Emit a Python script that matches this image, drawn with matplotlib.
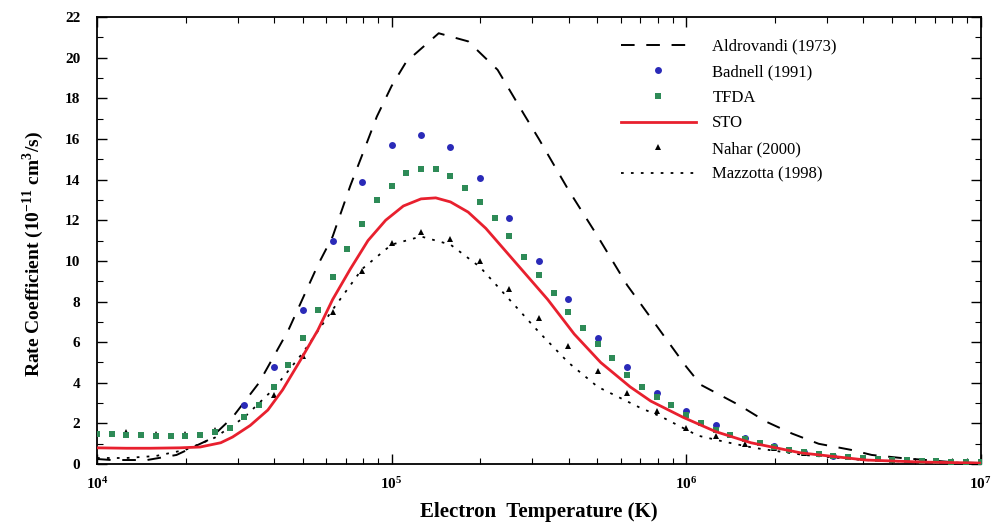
import numpy as np
import matplotlib
matplotlib.use("Agg")
import matplotlib.pyplot as plt
from matplotlib.ticker import LogLocator, MultipleLocator, FixedLocator

# ---- data (log10 of electron temperature in K, rate in 1e-11 cm^3/s) ----
ald_logT = [4.00, 4.05, 4.17, 4.27, 4.38, 4.46, 4.55, 4.65, 4.75, 4.80, 4.86, 4.90, 4.95,
            5.00, 5.05, 5.16, 5.26, 5.36, 5.45, 5.50, 5.56, 5.60, 5.70, 5.80, 5.90, 6.00,
            6.05, 6.18, 6.27, 6.36, 6.45, 6.56, 6.63, 6.73, 6.90, 7.00]
ald_rate = [0.25, 0.20, 0.20, 0.45, 1.20, 2.30, 4.00, 6.60, 9.80, 11.2, 13.7, 15.2, 17.1,
            18.6, 19.8, 21.2, 20.8, 19.4, 17.2, 16.0, 14.5, 13.5, 11.2, 8.8, 6.8, 4.8,
            3.9, 2.9, 2.1, 1.5, 1.0, 0.7, 0.45, 0.30, 0.10, 0.05]

bad_logT = [4.5, 4.6, 4.7, 4.8, 4.9, 5.0, 5.1, 5.2, 5.3, 5.4, 5.5, 5.6, 5.7, 5.8, 5.9, 6.0,
            6.1, 6.2, 6.3, 6.4, 6.5]
bad_rate = [2.9, 4.8, 7.6, 11.0, 13.9, 15.7, 16.2, 15.6, 14.1, 12.1, 10.0, 8.1, 6.2, 4.8,
            3.5, 2.6, 1.9, 1.3, 0.9, 0.6, 0.4]

tfda_logT = [4.00, 4.05, 4.10, 4.15, 4.20, 4.25, 4.30, 4.35, 4.40, 4.45, 4.50, 4.55, 4.60,
             4.65, 4.70, 4.75, 4.80, 4.85, 4.90, 4.95, 5.00, 5.05, 5.10, 5.15, 5.20, 5.25,
             5.30, 5.35, 5.40, 5.45, 5.50, 5.55, 5.60, 5.65, 5.70, 5.75, 5.80, 5.85, 5.90,
             5.95, 6.00, 6.05, 6.10, 6.15, 6.20, 6.25, 6.30, 6.35, 6.40, 6.45, 6.50, 6.55,
             6.60, 6.65, 6.70, 6.75, 6.80, 6.85, 6.90, 6.95, 7.00]
tfda_rate = [1.50, 1.50, 1.45, 1.45, 1.40, 1.40, 1.40, 1.45, 1.60, 1.80, 2.30, 2.90, 3.80,
             4.90, 6.20, 7.60, 9.20, 10.6, 11.8, 13.0, 13.7, 14.3, 14.5, 14.5, 14.2, 13.6,
             12.9, 12.1, 11.2, 10.2, 9.3, 8.4, 7.5, 6.7, 5.9, 5.2, 4.4, 3.8, 3.3,
             2.9, 2.4, 2.0, 1.7, 1.45, 1.25, 1.05, 0.85, 0.70, 0.60, 0.50, 0.42, 0.35,
             0.30, 0.25, 0.20, 0.18, 0.15, 0.13, 0.12, 0.11, 0.10]

sto_logT = [4.00, 4.10, 4.18, 4.28, 4.35, 4.42, 4.46, 4.52, 4.58, 4.63, 4.69, 4.75, 4.80,
            4.86, 4.92, 4.98, 5.04, 5.10, 5.15, 5.20, 5.26, 5.32, 5.41, 5.53, 5.62, 5.71,
            5.81, 5.88, 5.99, 6.10, 6.22, 6.39, 6.61, 6.80, 7.00]
sto_rate = [0.80, 0.78, 0.78, 0.80, 0.84, 1.05, 1.33, 1.90, 2.66, 3.65, 5.10, 6.60, 8.10,
            9.60, 11.0, 12.0, 12.7, 13.05, 13.1, 12.9, 12.4, 11.6, 10.1, 8.1, 6.4, 5.0,
            3.8, 3.1, 2.3, 1.6, 1.05, 0.55, 0.20, 0.10, 0.05]

nah_logT = [4.0, 4.1, 4.2, 4.3, 4.4, 4.5, 4.6, 4.7, 4.8, 4.9, 5.0, 5.1, 5.2, 5.3, 5.4, 5.5,
            5.6, 5.7, 5.8, 5.9, 6.0, 6.1, 6.2, 6.3, 6.4]
nah_rate = [1.6, 1.6, 1.5, 1.5, 1.7, 2.3, 3.4, 5.3, 7.5, 9.5, 10.9, 11.4, 11.1, 10.0, 8.6, 7.2,
            5.8, 4.6, 3.5, 2.6, 1.8, 1.4, 1.0, 0.8, 0.55]

maz_logT = [4.00, 4.10, 4.20, 4.30, 4.40, 4.50, 4.60, 4.70, 4.80, 4.90, 5.00, 5.10, 5.20,
            5.30, 5.40, 5.50, 5.60, 5.70, 5.84, 5.92, 6.04, 6.13, 6.23, 6.40, 6.60, 6.80, 7.00]
maz_rate = [0.30, 0.30, 0.40, 0.70, 1.30, 2.30, 3.70, 5.50, 7.60, 9.60, 10.8, 11.2, 10.8,
            9.7, 8.1, 6.5, 5.0, 3.8, 2.8, 2.3, 1.4, 1.1, 0.8, 0.45, 0.20, 0.10, 0.05]

labels = ["Aldrovandi (1973)", "Badnell (1991)", "TFDA", "STO", "Nahar (2000)", "Mazzotta (1998)"]
y_ticks = [0, 2, 4, 6, 8, 10, 12, 14, 16, 18, 20, 22]
x_ticks = [1e4, 1e5, 1e6, 1e7]
x_label = "Electron  Temperature (K)"
y_label = r"Rate Coefficient (10$^{\mathbf{-11}}$ cm$^{\mathbf{3}}$/s)"

def T(v):
    return 10 ** np.asarray(v)

plt.rcParams['font.family'] = ['Liberation Serif', 'DejaVu Serif']
plt.rcParams['mathtext.fontset'] = 'custom'
plt.rcParams['mathtext.rm'] = 'Liberation Serif:bold'
plt.rcParams['mathtext.bf'] = 'Liberation Serif:bold'

fig = plt.figure(figsize=(9.94, 5.31), dpi=100)
ax = fig.add_axes([0.0976, 0.126, 0.889, 0.842])

ax.plot(T(ald_logT), ald_rate, color='black', lw=1.4, ls=(0, (7, 6)), label=labels[0], zorder=3)
ax.plot(T(bad_logT), bad_rate, ls='none', marker='o', ms=5, color='#2a2ab8',
        markeredgewidth=0, label=labels[1], zorder=4)
ax.plot(T(tfda_logT), tfda_rate, ls='none', marker='s', ms=5, color='#2e8b57',
        markeredgewidth=0, label=labels[2], zorder=5)
ax.plot(T(sto_logT), sto_rate, color='#e8202e', lw=2.0, label=labels[3], zorder=6)
ax.plot(T(nah_logT), nah_rate, ls='none', marker='^', ms=5, color='black',
        markeredgewidth=0, label=labels[4], zorder=4)
ax.plot(T(maz_logT), maz_rate, color='black', lw=1.3, ls=(0, (1.5, 4)), label=labels[5], zorder=3)

ax.set_xscale('log')
ax.set_xlim(1e4, 1e7)
ax.set_ylim(0, 22)
ax.xaxis.set_major_locator(FixedLocator(x_ticks))
ax.xaxis.set_minor_locator(LogLocator(base=10, subs=np.arange(2, 10), numticks=20))
ax.yaxis.set_major_locator(FixedLocator(y_ticks))
ax.yaxis.set_minor_locator(MultipleLocator(1))
ax.tick_params(which='both', direction='in', top=True, right=True)
ax.tick_params(which='major', length=7, width=1.0, labelsize=11)
ax.tick_params(axis='y', which='major', pad=12)
ax.tick_params(axis='x', which='major', pad=9)
ax.tick_params(which='minor', length=4, width=0.8)
for lab in ax.get_xticklabels() + ax.get_yticklabels():
    lab.set_fontweight('bold')
for sp in ax.spines.values():
    sp.set_linewidth(1.3)

ax.set_xlabel(x_label, fontsize=15, fontweight='bold', labelpad=7)
ax.set_ylabel(y_label, fontsize=14, fontweight='bold')
ax.yaxis.set_label_coords(-0.058, 0.47)

leg = ax.legend(loc='upper left', frameon=False, fontsize=12, handlelength=4.5,
                handletextpad=1.0, labelspacing=0.58, bbox_to_anchor=(0.585, 0.967),
                borderaxespad=0.0)

fig.savefig('out.png', dpi=100)
